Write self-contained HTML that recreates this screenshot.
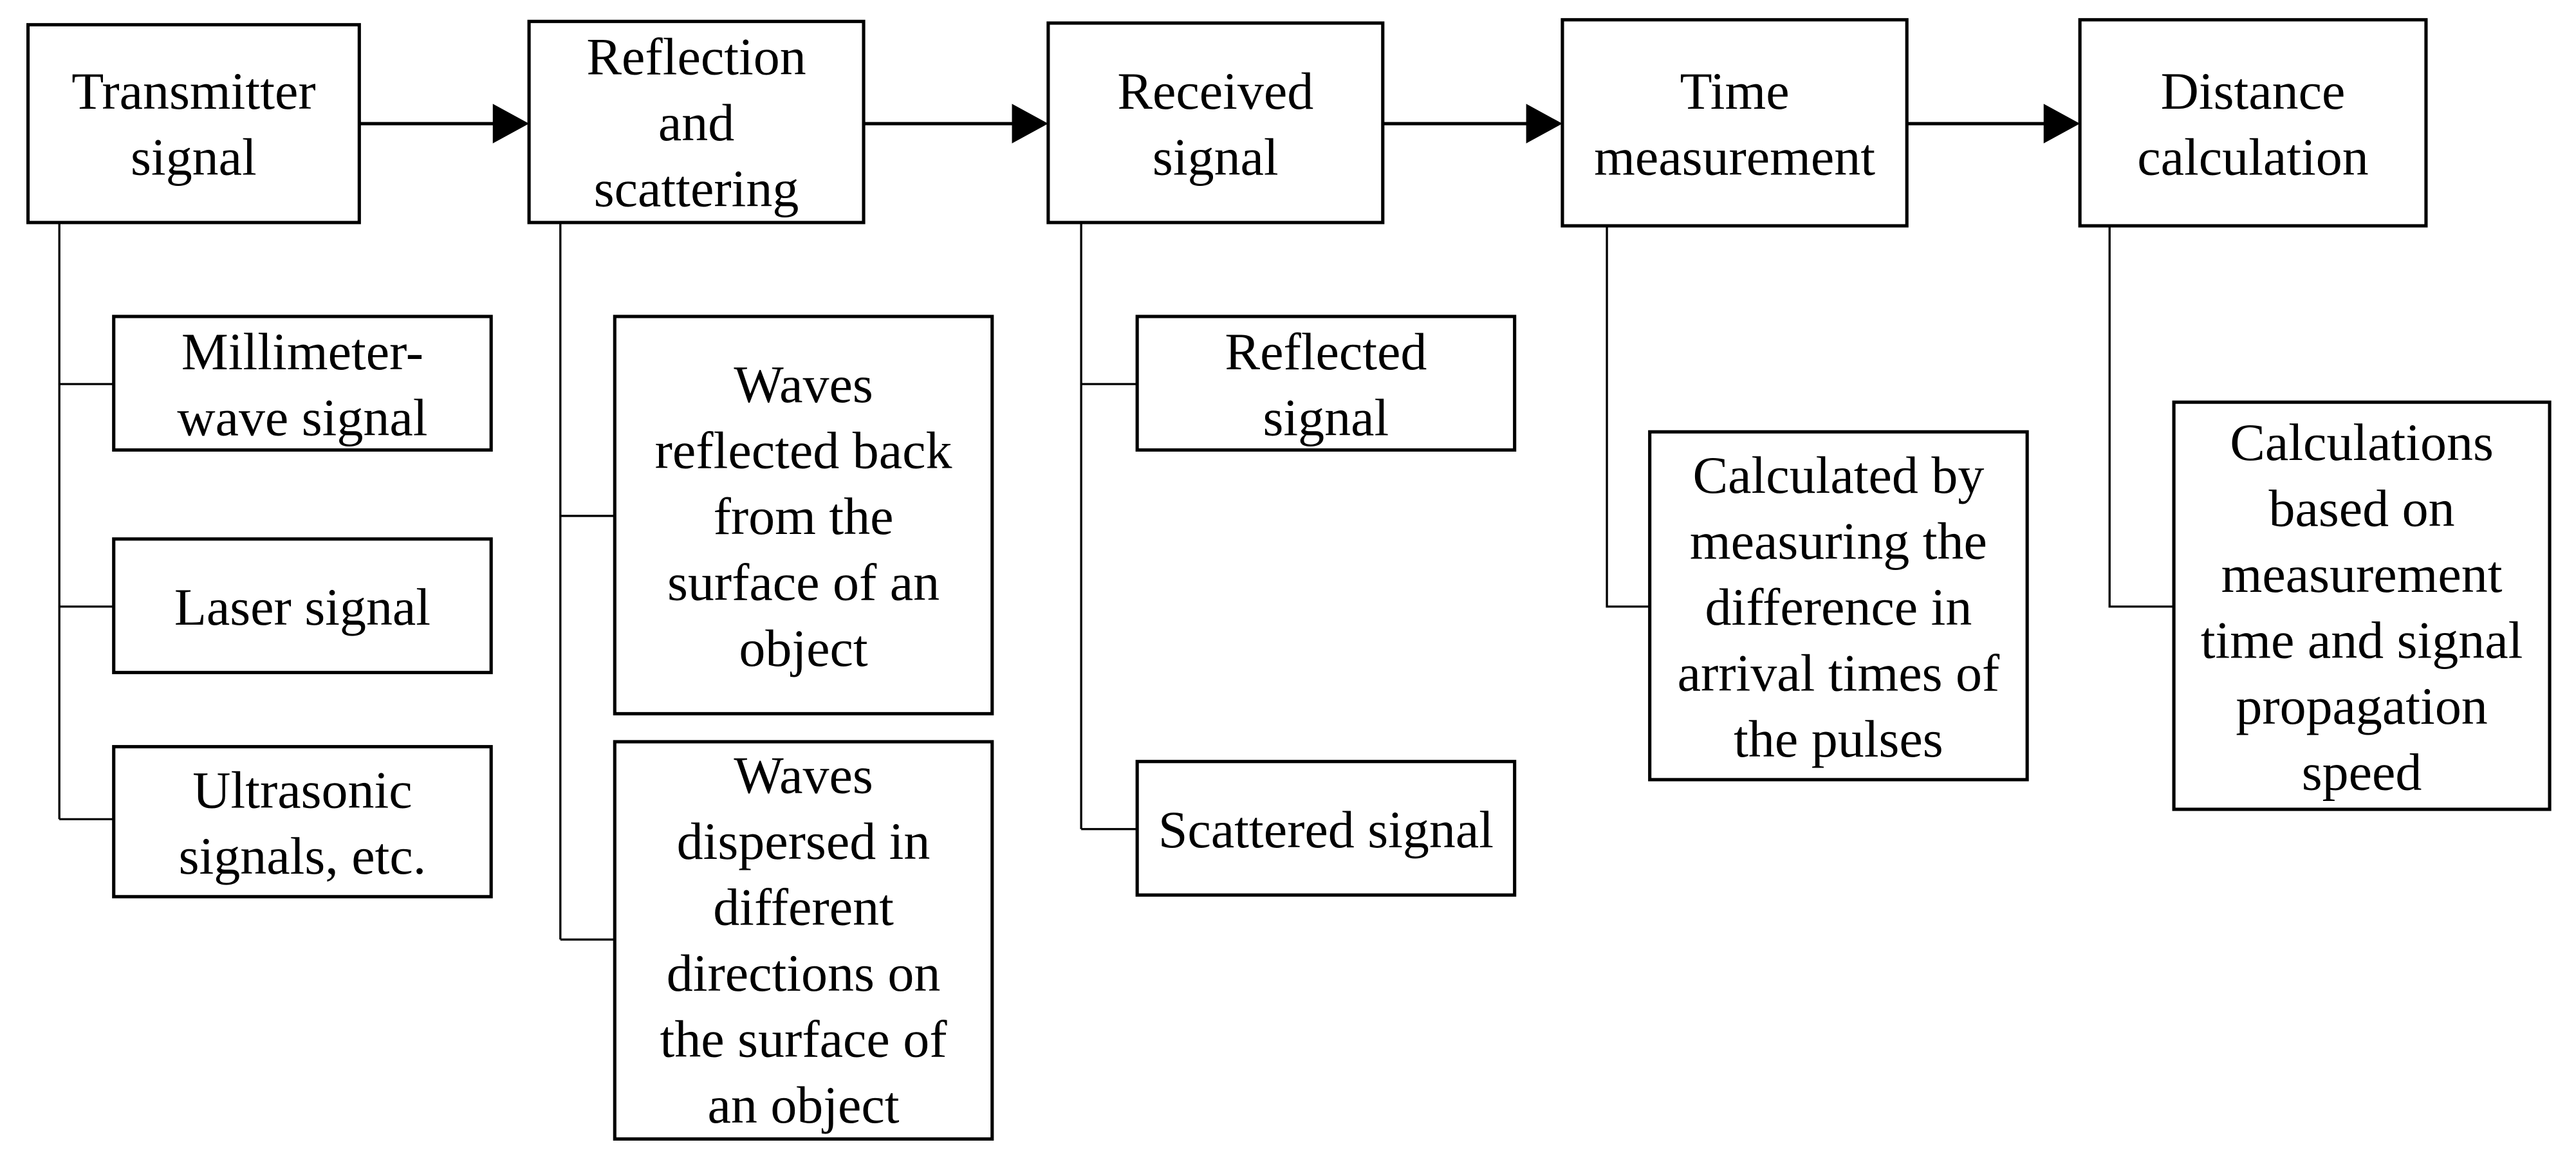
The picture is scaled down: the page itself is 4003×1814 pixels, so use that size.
<!DOCTYPE html>
<html><head><meta charset="utf-8"><style>
html,body{margin:0;padding:0;background:#fff;}
svg{display:block;}
text{font-family:"Liberation Serif","Times New Roman",serif;font-size:32px;fill:#000;}
</style></head><body>
<svg width="4003" height="1814" viewBox="0 0 1563 708" preserveAspectRatio="none" xmlns="http://www.w3.org/2000/svg">
<rect width="1563" height="708" fill="#fff"/>
<g fill="none" stroke="#000" stroke-width="1.3">
<!-- trunks and branches -->
<path d="M36 135V497M36 233H69M36 368H69M36 497H69"/>
<path d="M340 135V570M340 313H373M340 570H373"/>
<path d="M656 135V503M656 233H690M656 503H690"/>
<path d="M975 137V368H1001"/>
<path d="M1280 137V368H1319"/>
</g>
<g fill="none" stroke="#000" stroke-width="2">
<rect x="17" y="15" width="201" height="120"/>
<rect x="321" y="13" width="203" height="122"/>
<rect x="636" y="14" width="203" height="121"/>
<rect x="948" y="12" width="209" height="125"/>
<rect x="1262" y="12" width="210" height="125"/>
<rect x="69" y="192" width="229" height="81"/>
<rect x="69" y="327" width="229" height="81"/>
<rect x="69" y="453" width="229" height="91"/>
<rect x="373" y="192" width="229" height="241"/>
<rect x="373" y="450" width="229" height="241"/>
<rect x="690" y="192" width="229" height="81"/>
<rect x="690" y="462" width="229" height="81"/>
<rect x="1001" y="262" width="229" height="211"/>
<rect x="1319" y="244" width="228" height="247"/>
<path d="M218 75H300M524 75H615M839 75H927M1157 75H1241"/>
</g>
<g fill="#000">
<polygon points="299,63 321,75 299,87"/>
<polygon points="614,63 636,75 614,87"/>
<polygon points="926,63 948,75 926,87"/>
<polygon points="1240,63 1262,75 1240,87"/>
</g>
<g text-anchor="middle">
<text x="117.5" y="66">Transmitter</text><text x="117.5" y="106">signal</text>
<text x="422.5" y="45">Reflection</text><text x="422.5" y="85">and</text><text x="422.5" y="125">scattering</text>
<text x="737.5" y="66">Received</text><text x="737.5" y="106">signal</text>
<text x="1052.5" y="66">Time</text><text x="1052.5" y="106">measurement</text>
<text x="1367" y="66">Distance</text><text x="1367" y="106">calculation</text>
<text x="183.5" y="224">Millimeter-</text><text x="183.5" y="264">wave signal</text>
<text x="183.5" y="379">Laser signal</text>
<text x="183.5" y="490">Ultrasonic</text><text x="183.5" y="530">signals, etc.</text>
<text x="487.5" y="244">Waves</text><text x="487.5" y="284">reflected back</text><text x="487.5" y="324">from the</text><text x="487.5" y="364">surface of an</text><text x="487.5" y="404">object</text>
<text x="487.5" y="481">Waves</text><text x="487.5" y="521">dispersed in</text><text x="487.5" y="561">different</text><text x="487.5" y="601">directions on</text><text x="487.5" y="641">the surface of</text><text x="487.5" y="681">an object</text>
<text x="804.5" y="224">Reflected</text><text x="804.5" y="264">signal</text>
<text x="804.5" y="514">Scattered signal</text>
<text x="1115.5" y="299">Calculated by</text><text x="1115.5" y="339">measuring the</text><text x="1115.5" y="379">difference in</text><text x="1115.5" y="419">arrival times of</text><text x="1115.5" y="459">the pulses</text>
<text x="1433" y="279">Calculations</text><text x="1433" y="319">based on</text><text x="1433" y="359">measurement</text><text x="1433" y="399">time and signal</text><text x="1433" y="439">propagation</text><text x="1433" y="479">speed</text>
</g>
</svg>
</body></html>
